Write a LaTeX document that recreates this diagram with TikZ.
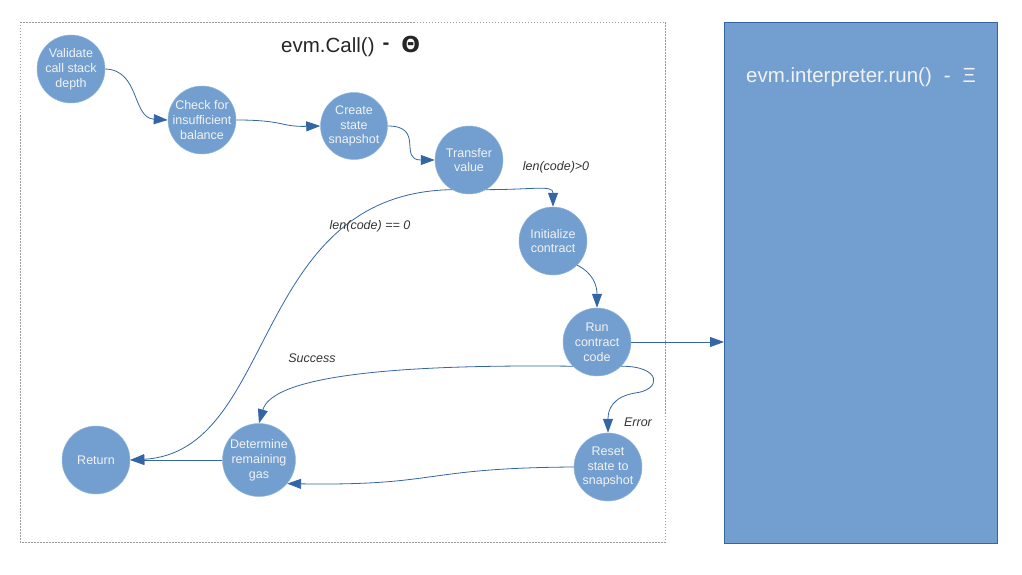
\documentclass[tikz,border=0pt]{standalone}
\usepackage{fontspec}
\setmainfont{Liberation Sans}
\newfontfamily\dejavu{DejaVu Sans}
\usetikzlibrary{arrows.meta}
\definecolor{nodefill}{HTML}{729FCF}
\definecolor{edgecol}{HTML}{3465A4}
\definecolor{txtcol}{HTML}{F2F2F2}
\definecolor{lblcol}{HTML}{333333}
\definecolor{boxline}{HTML}{999999}
\begin{document}
\begin{tikzpicture}[x=1pt,y=-1pt,
  stnode/.style={circle, fill=nodefill, draw=nodefill!75!white, line width=0.5pt,
    minimum size=68pt, inner sep=-10pt, align=center, text=txtcol,
    font=\fontsize{12.5}{14.8}\selectfont},
  conn/.style={draw=edgecol, line width=0.8pt, -{Triangle[length=14pt,width=10pt]}},
  lbl/.style={font=\fontsize{12.5}{14}\selectfont\itshape, text=lblcol, inner sep=0pt}]
\useasboundingbox (0,0) rectangle (1022,575);
% frames
\draw[boxline, line width=0.8pt, dash pattern=on 1.5pt off 1.5pt] (20,22) rectangle (665,542);
\node[draw=edgecol, fill=nodefill, line width=0.6pt, minimum width=273pt, minimum height=521pt, inner sep=0pt, anchor=north west] (interp) at (724,22) {};
\node[anchor=west, text=txtcol, font=\fontsize{20.5}{24}\selectfont, inner sep=0pt] (interptitle) at (746,77) {evm.interpreter.run()\hspace{12pt}-\hspace{12pt}Ξ};
\node[anchor=west, text=black!85, font=\fontsize{20.5}{24}\selectfont, inner sep=0pt] (calltitle) at (281,46) {evm.Call()\hspace{8pt}\raisebox{3pt}{\textbf{-}}\hspace{12pt}{\dejavu\bfseries\fontsize{22}{24}\selectfont Θ}};
% nodes
\node[stnode] (val) at (71,69) {Validate\\call stack\\depth};
\node[stnode] (chk) at (202,120) {Check for\\insufficient\\balance};
\node[stnode, minimum size=67pt] (snap) at (354,126) {Create\\state\\snapshot};
\node[stnode] (tv) at (469,160) {Transfer\\value};
\node[stnode] (init) at (553,241) {Initialize\\contract};
\node[stnode] (run) at (597,342) {Run\\contract\\code};
\node[stnode] (ret) at (96,460) {Return};
\node[stnode, minimum size=73pt] (det) at (259,460) {Determine\\remaining\\gas};
\node[stnode] (reset) at (608,467) {Reset\\state to\\snapshot};
% connectors
\draw[conn] (val.east) .. controls (140,70) and (132,118) .. (chk.west);
\draw[conn] (chk.east) .. controls (285,120) and (280,127) .. (snap.west);
\draw[conn] (snap.east) .. controls (425,126) and (398,160) .. (tv.west);
\draw[conn] (tv.-60) .. controls +(48,0) and +(0,-22) .. (init.north);
\draw[conn] (tv.240) .. controls (250,193) and (278,452) .. (ret.east);
\draw[conn] (init.-45) .. controls +(16,8) and +(0,-22) .. (run.north);
\draw[conn] (run.east) -- (interp.west |- run.east);
\draw[conn] (run.225) .. controls (380,364) and (272,378) .. (det.north);
\draw[conn] (run.-45) .. controls (662,366) and (662,390) .. (635,393) .. controls (612,397) and (608,410) .. (reset.north);
\draw[conn] (reset.west) .. controls (420,468) and (440,486) .. (det.-40);
\draw[conn] (det.west) -- (ret.east);
% labels
\node[lbl] (l1) at (556,167) {len(code)>0};
\node[lbl] (l2) at (370,226) {len(code) == 0};
\node[lbl] (l3) at (312,358) {Success};
\node[lbl] (l4) at (638,422) {Error};
\end{tikzpicture}
\end{document}
